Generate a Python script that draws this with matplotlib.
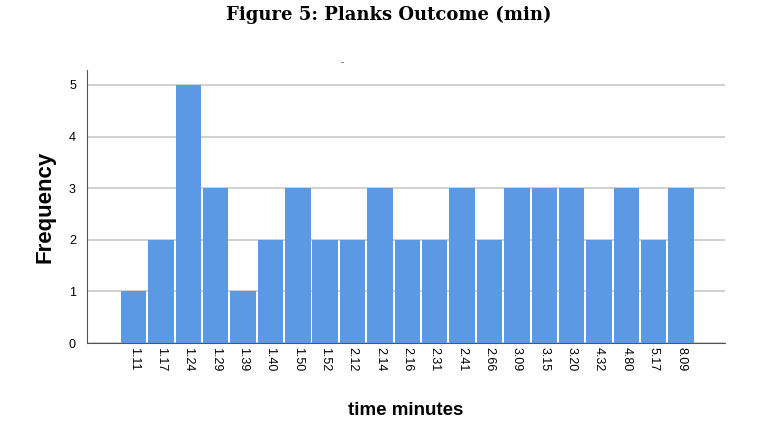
import matplotlib
matplotlib.use('Agg')
import matplotlib.pyplot as plt

# data
times = ['1.11', '1.17', '1.24', '1.29', '1.39', '1.40', '1.50', '1.52', '2.12', '2.14',
         '2.16', '2.31', '2.41', '2.66', '3.09', '3.15', '3.20', '4.32', '4.80', '5.17', '8.09']
freq = [1, 2, 5, 3, 1, 2, 3, 2, 2, 3, 2, 2, 3, 2, 3, 3, 3, 2, 3, 2, 3]

fig = plt.figure(figsize=(7.77, 4.32), dpi=100)
ax = fig.add_axes([0.112, 0.206, 0.821, 0.632])

x = list(range(len(times)))
ax.bar(x, freq, width=0.93, color='#5B99E4', zorder=3)
ax.set_xlim(-1.7, 21.6)
ax.set_ylim(0, 5.29)
ax.set_yticks([0, 1, 2, 3, 4, 5])
ax.set_xticks(x)
ax.set_xticklabels(times, rotation=270, fontsize=9, family='Liberation Sans')
ax.tick_params(axis='x', length=0, pad=3)
ax.tick_params(axis='y', length=0, labelsize=9, pad=8)
for lab in ax.get_yticklabels():
    lab.set_family('Liberation Sans')
ax.yaxis.grid(True, color='#c8c8c8', linewidth=1.2, zorder=0)
for s in ['top', 'right']:
    ax.spines[s].set_visible(False)
for s in ['left', 'bottom']:
    ax.spines[s].set_color('#555555')
    ax.spines[s].set_linewidth(0.8)

ax.set_ylabel('Frequency', fontsize=16, fontweight='bold', family='Liberation Sans', labelpad=10)
ax.set_xlabel('time minutes', fontsize=13.5, fontweight='bold', family='Liberation Sans', labelpad=22)

fig.text(0.5, 0.965, 'Figure 5: Planks Outcome (min)', ha='center', va='center',
         fontsize=13, fontweight='bold', family='DejaVu Serif')
fig.text(0.44, 0.855, '-', ha='center', va='center', fontsize=6, color='#333333')

plt.savefig('out.png', dpi=100)
